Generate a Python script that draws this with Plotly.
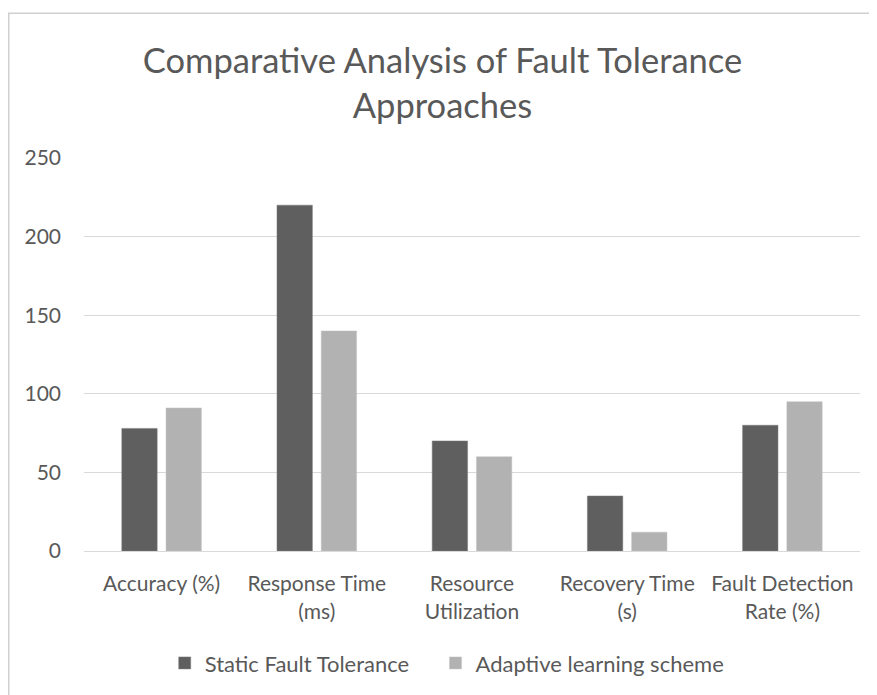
import plotly.graph_objects as go

categories = ["Accuracy (%)", "Response Time<br>(ms)", "Resource<br>Utilization",
              "Recovery Time<br>(s)", "Fault Detection<br>Rate (%)"]
static_vals = [78, 220, 70, 35, 80]
adaptive_vals = [91, 140, 60, 12, 95]
series_names = ["Static Fault Tolerance", "Adaptive learning scheme"]
y_ticks = [0, 50, 100, 150, 200, 250]

FONT = "Lato"
TXT = "#595959"

W, H = 869, 687
L, R, T, B = 76, 17, 150, 143
PW, PH = W - L - R, H - T - B

fig = go.Figure()
fig.add_trace(go.Bar(x=categories, y=static_vals, name=series_names[0], legend="legend",
                     marker=dict(color="#5f5f5f", line=dict(color="#7a7a7a", width=0.5))))
fig.add_trace(go.Bar(x=categories, y=adaptive_vals, name=series_names[1], legend="legend2",
                     marker=dict(color="#b2b2b2", line=dict(color="#c4c4c4", width=0.5))))

leg_common = dict(orientation="h", y=-0.282, yanchor="middle", xanchor="left",
                  font=dict(family=FONT, size=22, color=TXT), itemwidth=30,
                  bgcolor="rgba(0,0,0,0)")

fig.update_layout(
    width=W, height=H,
    paper_bgcolor="white", plot_bgcolor="white",
    margin=dict(l=L, r=R, t=T, b=B),
    barmode="group", bargap=0.43, bargroupgap=0.2,
    title=dict(text="Comparative Analysis of Fault Tolerance<br>Approaches",
               x=0.5, xanchor="center", y=1 - 65 / H, yanchor="middle",
               font=dict(family=FONT, size=34.5, color=TXT)),
    font=dict(family=FONT, size=21, color=TXT),
    showlegend=True,
    legend=dict(x=0.104, **leg_common),
    legend2=dict(x=0.453, **leg_common),
    xaxis=dict(showgrid=False, showline=True, linecolor="#d9d9d9", linewidth=1,
               ticks="", ticklabelstandoff=14,
               tickfont=dict(family=FONT, size=21, color=TXT)),
    yaxis=dict(range=[0, 250], tickvals=y_ticks, showgrid=True, gridcolor="#d9d9d9",
               gridwidth=1, zeroline=False, showline=False, ticks="",
               ticklabelstandoff=22,
               tickfont=dict(family=FONT, size=21, color=TXT)),
    shapes=[dict(type="rect", xref="paper", yref="paper",
                 x0=(0.75 - L) / PW, x1=1.2, y0=-0.5, y1=(PH + T - 5) / PH,
                 line=dict(color="#d0d0d0", width=1.5), fillcolor="rgba(0,0,0,0)",
                 layer="below")],
)

fig.write_html("out.html")
